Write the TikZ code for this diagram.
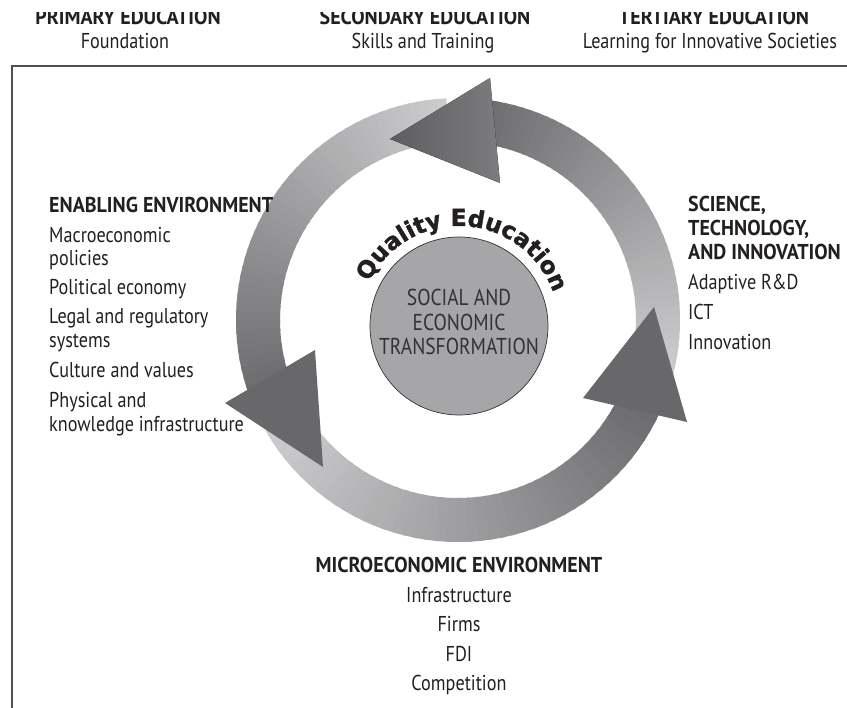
\documentclass[tikz,border=0pt]{standalone}
\usepackage{fontspec}
\setmainfont{PT Sans}[FakeStretch=0.845, BoldFeatures={FakeStretch=0.93}]
\newfontfamily\qfont{DejaVu Sans}[BoldFeatures={FakeBold=1.3}]
\usetikzlibrary{decorations.text}
\definecolor{lightc}{RGB}{204,204,206}
\definecolor{darkc}{RGB}{106,106,108}
\definecolor{headc}{RGB}{104,104,106}
\definecolor{ctrc}{RGB}{166,166,168}
\definecolor{txt}{RGB}{35,31,32}
\definecolor{ctrtxt}{RGB}{50,50,52}
\definecolor{framec}{RGB}{80,80,80}
\begin{document}
\begin{tikzpicture}[x=1pt,y=1pt,
  lbl/.style={font=\fontsize{21.5}{24}\selectfont, text=txt, inner sep=0pt, anchor=base west},
  lblb/.style={lbl, font=\bfseries\fontsize{21.5}{24}\selectfont},
  lblc/.style={lbl, anchor=base},
  lblbc/.style={lblb, anchor=base},
  headtri/.style={fill=headc}]
\useasboundingbox (0,0) rectangle (847,-708);
% frame
\draw[framec, line width=1.3pt] (12,-712) -- (12,-66) -- (850,-66);
% headers (top clipped)
\begin{scope}
\clip (0,-13) rectangle (847,-708);
\node[lblbc] (h1) at (128,-25) {PRIMARY EDUCATION};
\node[lblc] (s1) at (125,-49) {Foundation};
\node[lblbc] (h2) at (425,-25) {SECONDARY EDUCATION};
\node[lblc] (s2) at (423,-49) {Skills and Training};
\node[lblbc] (h3) at (714,-25) {TERTIARY EDUCATION};
\node[lblc] (s3) at (710,-49) {Learning for Innovative Societies};
\end{scope}
% ring
\begin{scope}[shift={(458,-320)}]
\foreach \s/\e in {-14/86, 93/202, 210/338} {
  \foreach \i in {0,...,44} {
    \pgfmathsetmacro\aa{\s+(\e-\s)*\i/45}
    \pgfmathsetmacro\ab{\s+(\e-\s)*(\i+1.4)/45}
    \pgfmathtruncatemacro\pc{100*\i/44}
    \fill[darkc!\pc!lightc] (\aa:222) arc[start angle=\aa, end angle=\ab, radius=222pt]
      -- (\ab:178) arc[start angle=\ab, end angle=\aa, radius=178pt] -- cycle;
  }
}
\fill[left color={rgb,255:red,94;green,94;blue,96}, right color={rgb,255:red,124;green,124;blue,126}]
  (-68,181) -- (32,242) -- (42,137) -- cycle;
\fill[headtri] (-135,-147) -- (-233,-83) -- (-143,-30) -- cycle;
\fill[headtri] (196,13) -- (125,-78) -- (229,-102) -- cycle;
\end{scope}
% center
\node[circle, draw=black!80, line width=0.7pt, fill=ctrc, minimum size=178pt, inner sep=0pt] (core) at (459,-326) {};
\node[align=center, text=ctrtxt, font=\fontsize{23}{24.5}\selectfont, inner sep=0pt] (coretxt) at (459,-322)
  {SOCIAL AND\\ECONOMIC\\TRANSFORMATION};
\path[decorate, decoration={text along path, text align=left,
  text={|\qfont\bfseries\fontsize{23.5}{23.5}\selectfont\color{txt}|Quality Education}}]
  (459,-326) ++(154:100) arc[start angle=154, end angle=15, radius=100pt];
% left block
\node[lblb] (eh) at (49,-213) {ENABLING ENVIRONMENT};
\foreach \t/\y [count=\k] in {Macroeconomic/243, policies/266, Political economy/295,
  Legal and regulatory/324, systems/348, Culture and values/378, Physical and/408,
  knowledge infrastructure/432}
  \node[lbl] (e\k) at (49,-\y) {\t};
% right block
\foreach \t/\y [count=\k] in {{SCIENCE,}/212, {TECHNOLOGY,}/236, AND INNOVATION/260}
  \node[lblb] (sh\k) at (688,-\y) {\t};
\foreach \t/\y [count=\k] in {Adaptive R\&D/290, ICT/320, Innovation/350}
  \node[lbl] (si\k) at (688,-\y) {\t};
% bottom block
\node[lblbc] (mh) at (459,-573) {MICROECONOMIC ENVIRONMENT};
\foreach \t/\y [count=\k] in {Infrastructure/603, Firms/632, FDI/662, Competition/691}
  \node[lblc] (mi\k) at (459,-\y) {\t};
\end{tikzpicture}
\end{document}
